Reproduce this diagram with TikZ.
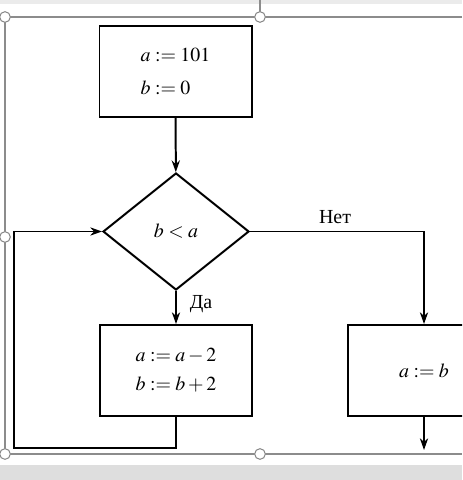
\documentclass[tikz,border=0pt]{standalone}
\usepackage{mathptmx}
\usepackage{fontspec}
\setmainfont{Liberation Serif}
\usetikzlibrary{shapes.geometric,arrows.meta}

\begin{document}
\begin{tikzpicture}[x=0.03cm, y=-0.03cm, line width=1.7pt,
  box/.style={draw, rectangle, align=left, minimum width=4.56cm,
              minimum height=2.73cm, font=\fontsize{17}{20}\selectfont},
  cond/.style={draw, diamond, inner sep=0pt, minimum width=4.38cm,
               minimum height=3.51cm, font=\fontsize{17}{20}\selectfont},
  lbl/.style={font=\fontsize{17}{20}\selectfont},
  a/.style={-{Stealth[length=10pt, width=7pt]}},
  frame/.style={draw=black!45, line width=0.9pt},
  handle/.style={draw=black!45, line width=0.9pt, fill=white, circle,
                 inner sep=0pt, minimum size=0.32cm}]

  \useasboundingbox (0,0) rectangle (462,480);
  \clip (0,0) rectangle (462,480);

  % window frame
  \fill[black!8]  (0,0) rectangle (462,4);
  \fill[black!13] (0,465) rectangle (462,480);
  \draw[frame] (260,0) -- (260,17);
  \draw[frame] (462,17) -- (5,17) -- (5,454) -- (462,454);

  \node[box]  (start)  at (175.5,71.5) {$a:=101$\\[9pt]$b:=0$};
  \node[cond] (check)  at (176,231.5)  {$b<a$};
  \node[box]  (body)   at (176,370.5)  {$a:=a-2$\\[5pt]$b:=b+2$};
  \node[box, align=center] (assign) at (424,370.5) {$a:=b$};

  \coordinate (loop) at (14,448);
  \coordinate (exit) at (424,450);

  \draw[a] (start) -- (check);
  \draw[a] (check.south) -- (body.north);
  \draw[a] (check.east) -| (assign.north);
  \draw[a] (body.south) |- (loop) |- (check.west);
  \draw[a] (assign.south) -- (exit);

  \node[lbl] (no)  at (335,217) {Нет};
  \node[lbl] (yes) at (201,304) {Да};

  \node[handle] (h1) at (5,17)   {};
  \node[handle] (h2) at (260,17) {};
  \node[handle] (h3) at (5,237)  {};
  \node[handle] (h4) at (5,454)  {};
  \node[handle] (h5) at (260,454) {};

\end{tikzpicture}
\end{document}
